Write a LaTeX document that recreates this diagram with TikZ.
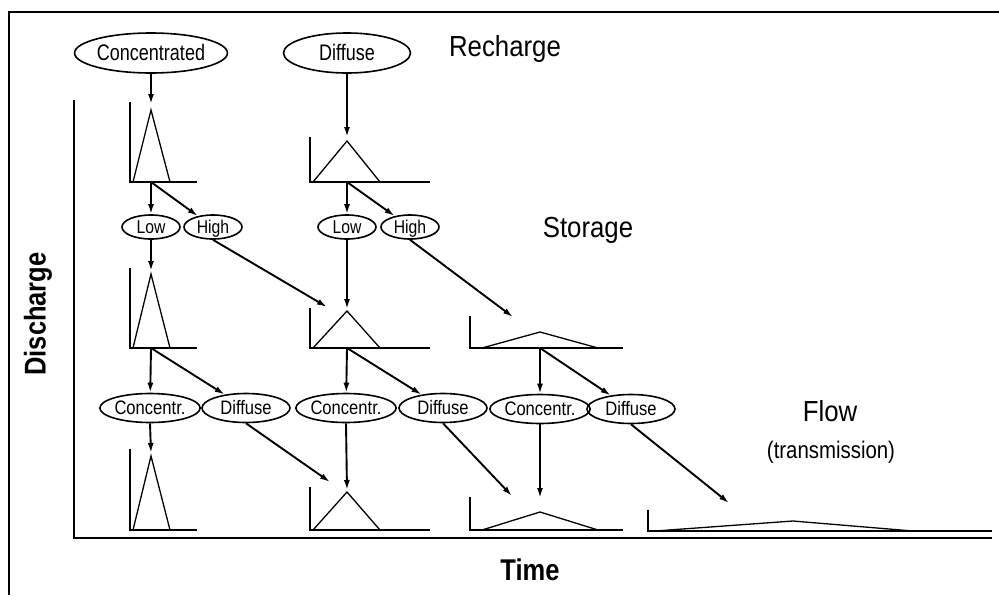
\documentclass[tikz,border=0pt]{standalone}
\usepackage{fontspec}
\setmainfont{Liberation Sans}
\newfontfamily\narA[FakeStretch=0.80]{Liberation Sans}
\newfontfamily\narB[FakeStretch=0.85]{Liberation Sans}
\newfontfamily\narC[FakeStretch=0.89]{Liberation Sans}
\newfontfamily\narD[FakeStretch=0.85]{Liberation Sans}
\usetikzlibrary{shapes.geometric,arrows.meta}
\tikzset{
  ell/.style={draw, ellipse, line width=1.6pt, inner sep=0pt},
  bigell/.style={ell, minimum width=127pt, minimum height=40pt, text height=16pt, text depth=0.5pt, font=\narA\fontsize{22.5}{24}\selectfont},
  smallell/.style={ell, minimum width=58pt, minimum height=24pt, text height=13.3pt, text depth=0.4pt, font=\narB\fontsize{18.5}{20}\selectfont},
  midell/.style={ell, minimum width=88pt, minimum height=29pt, text height=14pt, text depth=0.4pt, font=\narB\fontsize{19.5}{21}\selectfont},
  conn/.style={line width=1.9pt, -{Latex[length=10pt,width=6pt]}},
  gaxis/.style={line width=2.1pt},
  tri/.style={line width=1.3pt, line join=miter},
  lbl/.style={font=\narC\fontsize{29}{31}\selectfont, inner sep=0pt},
  sublbl/.style={font=\narB\fontsize{24}{26}\selectfont, inner sep=0pt},
  axlbl/.style={font=\narD\bfseries\fontsize{30}{32}\selectfont, inner sep=0pt}
}
\begin{document}
\begin{tikzpicture}[x=1pt,y=-1pt]
\useasboundingbox (0,0) rectangle (999,595);
% outer frame
\draw[line width=2pt] (999,12) -- (9,12) -- (9,595);
% main axes
\draw[line width=2.2pt] (74,100) -- (74,538) -- (992,538);
% small graphs: axes
\draw[gaxis] (130,102) -- (130,182) -- (197,182);
\draw[gaxis] (310,137) -- (310,182) -- (430,182);
\draw[gaxis] (130,268) -- (130,348) -- (197,348);
\draw[gaxis] (310,308) -- (310,348) -- (430,348);
\draw[gaxis] (470,316) -- (470,348) -- (623,348);
\draw[gaxis] (130,449) -- (130,530) -- (197,530);
\draw[gaxis] (310,487) -- (310,530) -- (430,530);
\draw[gaxis] (470,497) -- (470,530) -- (623,530);
\draw[gaxis] (648,510) -- (648,531) -- (992,531);
% triangles
\draw[tri] (133,182) -- (151,110) -- (170,182);
\draw[tri] (313,182) -- (347,141) -- (380,182);
\draw[tri] (133,348) -- (151,274) -- (170,348);
\draw[tri] (313,348) -- (347,311) -- (380,348);
\draw[tri] (482,348) -- (540,332) -- (598,348);
\draw[tri] (133,530) -- (151,456) -- (170,530);
\draw[tri] (313,530) -- (347,492) -- (380,530);
\draw[tri] (482,530) -- (540,512) -- (598,530);
\draw[tri] (655,531) -- (793,521) -- (913,531);
% coordinates
\coordinate (a1t) at (151,104);
\coordinate (b1t) at (347,137);
\coordinate (a1b) at (151,182);
\coordinate (b1b) at (347,182);
\coordinate (a2t) at (151,271);
\coordinate (b2h) at (327,307);
\coordinate (b2t) at (347,309);
\coordinate (c2h) at (513,317);
\coordinate (a2b) at (151,348);
\coordinate (b2b) at (347,348);
\coordinate (c2b) at (540,348);
\coordinate (a3t) at (151,453);
\coordinate (b3h) at (330,482);
\coordinate (b3t) at (347,490);
\coordinate (c3h) at (512,496);
\coordinate (c3t) at (540,498);
\coordinate (d3h) at (729,503);
% ellipses
\node[bigell] (conc) at (151,53) {Concentrated};
\node[bigell] (diff) at (347,53) {Diffuse};
\node[smallell] (low1) at (151,227) {Low};
\node[smallell] (high1) at (213,227) {High};
\node[smallell] (low2) at (347,227) {Low};
\node[smallell] (high2) at (410,227) {High};
\node[midell] (c1) at (150,408) {Concentr.};
\node[midell] (d1) at (246,408) {Diffuse};
\node[midell] (c2) at (346,408) {Concentr.};
\node[midell] (d2) at (443,408) {Diffuse};
\node[midell] (c3) at (540,409) {Concentr.};
\node[midell] (d3) at (631,409) {Diffuse};
% labels
\node[lbl] (rech) at (505,49) {Recharge};
\node[lbl] (stor) at (588,230) {Storage};
\node[lbl] (flow) at (830,411) {Flow};
\node[sublbl] (trans) at (831,452) {(transmission)};
\node[axlbl] (time) at (530,570) {Time};
\node[axlbl, rotate=90] (disch) at (38,314) {Discharge};
% connectors
\draw[conn] (conc) -- (a1t);
\draw[conn] (diff) -- (b1t);
\draw[conn] (a1b) -- (low1);
\draw[conn] (a1b) -- (high1);
\draw[conn] (b1b) -- (low2);
\draw[conn] (b1b) -- (high2);
\draw[conn] (low1.south) -- (a2t);
\draw[conn] (high1.south) -- (b2h);
\draw[conn] (low2.south) -- (b2t);
\draw[conn] (high2.south) -- (c2h);
\draw[conn] (a2b) -- (c1);
\draw[conn] (a2b) -- (d1);
\draw[conn] (b2b) -- (c2);
\draw[conn] (b2b) -- (d2);
\draw[conn] (c2b) -- (c3);
\draw[conn] (c2b) -- (d3);
\draw[conn] (c1.south) -- (a3t);
\draw[conn] (d1.south) -- (b3h);
\draw[conn] (c2.south) -- (b3t);
\draw[conn] (d2.south) -- (c3h);
\draw[conn] (c3.south) -- (c3t);
\draw[conn] (d3.south) -- (d3h);
\end{tikzpicture}
\end{document}
